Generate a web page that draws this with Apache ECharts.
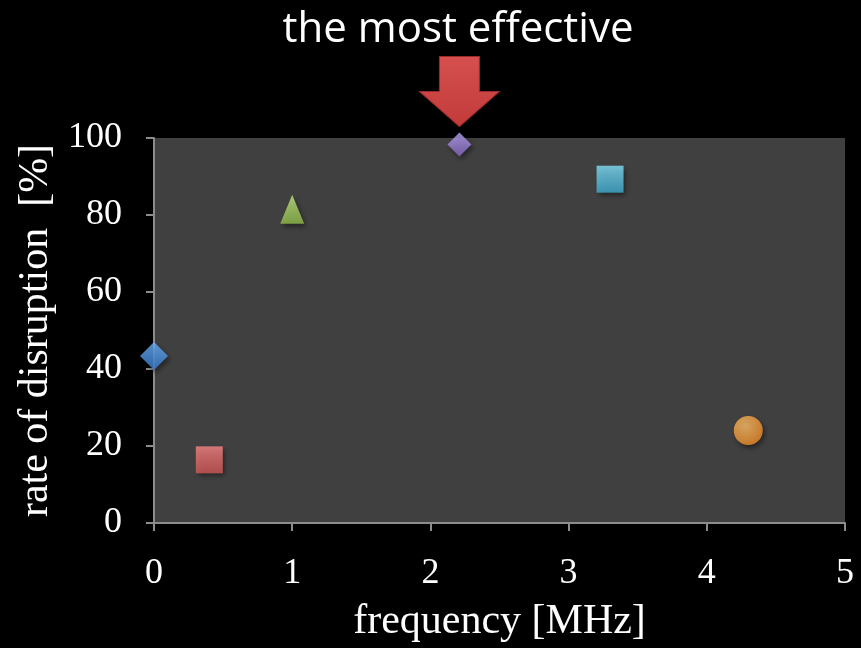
<!DOCTYPE html>
<html>
<head>
<meta charset="utf-8">
<script src="https://cdn.jsdelivr.net/npm/echarts@6/dist/echarts.min.js"></script>
<style>
  html, body { margin: 0; padding: 0; background: #000; }
  #chart { width: 861px; height: 648px; }
</style>
</head>
<body>
<div id="chart"></div>
<script>
// Measured points: frequency (MHz) and rate of disruption (%)
const labels = ['A', 'B', 'C', 'D', 'E', 'F'];
const frequencies = [0, 0.40, 1.0, 2.21, 3.30, 4.30];
const rates = [43.4, 16.4, 81.5, 98.3, 89.3, 24.0];
const xTicks = [0, 1, 2, 3, 4, 5];
const yTicks = [0, 20, 40, 60, 80, 100];
const highlightIndex = 3; // the point marked as most effective

const markerStyles = [
  { symbol: 'diamond', size: [28, 28], top: '#6cb2f8', bottom: '#3a7ed4' },
  { symbol: 'rect', size: [27, 27], top: '#f88686', bottom: '#d25656' },
  { symbol: 'triangle', size: [24, 29], top: '#c4e884', bottom: '#90bc4c' },
  { symbol: 'diamond', size: [24, 24], top: '#baa4f2', bottom: '#8468c4' },
  { symbol: 'rect', size: [27, 27], top: '#84e0f8', bottom: '#40acd0' },
  { symbol: 'circle', size: [29, 29], top: '#ffc470', bottom: '#ee8a24' }
];

function fill(m) {
  if (m.symbol === 'circle') {
    return new echarts.graphic.RadialGradient(0.4, 0.35, 0.7, [
      { offset: 0, color: m.top },
      { offset: 1, color: m.bottom }
    ]);
  }
  return new echarts.graphic.LinearGradient(0, 0, 0, 1, [
    { offset: 0, color: m.top },
    { offset: 1, color: m.bottom }
  ]);
}

const series = labels.map((name, i) => {
  const m = markerStyles[i];
  const s = {
    name: name,
    type: 'scatter',
    symbol: m.symbol,
    symbolSize: m.size,
    data: [[frequencies[i], rates[i]]],
    itemStyle: {
      color: fill(m),
      shadowBlur: 5,
      shadowColor: 'rgba(0,0,0,0.55)',
      shadowOffsetX: 2,
      shadowOffsetY: 3
    },
    z: 3
  };
  if (i === highlightIndex) {
    s.markPoint = {
      silent: true,
      symbol: 'path://M20,0 L60,0 L60,35 L80,35 L40,70 L0,35 L20,35 Z',
      symbolSize: [80, 70],
      symbolKeepAspect: false,
      symbolOffset: [0, -53],
      label: { show: false },
      itemStyle: {
        color: new echarts.graphic.LinearGradient(0, 0, 0, 1, [
          { offset: 0, color: '#d65050' },
          { offset: 1, color: '#c23a3a' }
        ]),
        borderColor: '#9c2a2a',
        borderWidth: 1
      },
      data: [{ coord: [frequencies[i], rates[i]] }]
    };
  }
  return s;
});

const chart = echarts.init(document.getElementById('chart'));
chart.setOption({
  backgroundColor: '#000000',
  animation: false,
  title: {
    text: 'the most effective',
    left: 453,
    top: 4,
    textAlign: 'center',
    textStyle: {
      color: '#ffffff',
      fontFamily: 'Open Sans',
      fontWeight: 'normal',
      fontSize: 42
    }
  },
  grid: {
    left: 154,
    right: 16,
    top: 138,
    bottom: 123,
    show: true,
    backgroundColor: '#404040',
    borderWidth: 0
  },
  xAxis: {
    type: 'value',
    min: xTicks[0],
    max: xTicks[xTicks.length - 1],
    interval: 1,
    name: 'frequency [MHz]',
    nameLocation: 'middle',
    nameGap: 78,
    nameTextStyle: { color: '#ffffff', fontFamily: 'Liberation Serif', fontSize: 42 },
    axisLine: { show: true, lineStyle: { color: '#8c8c8c', width: 2 } },
    axisTick: { show: true, length: 8, lineStyle: { color: '#8c8c8c', width: 2 } },
    axisLabel: { color: '#ffffff', fontFamily: 'Liberation Serif', fontSize: 36, margin: 33 },
    splitLine: { show: false }
  },
  yAxis: {
    type: 'value',
    min: yTicks[0],
    max: yTicks[yTicks.length - 1],
    interval: 20,
    name: 'rate of disruption  [%]',
    nameLocation: 'middle',
    nameGap: 90,
    nameTextStyle: { color: '#ffffff', fontFamily: 'Liberation Serif', fontSize: 42 },
    axisLine: { show: true, lineStyle: { color: '#8c8c8c', width: 2 } },
    axisTick: { show: true, length: 8, lineStyle: { color: '#8c8c8c', width: 2 } },
    axisLabel: { color: '#ffffff', fontFamily: 'Liberation Serif', fontSize: 36, margin: 32 },
    splitLine: { show: false }
  },
  series: series
});
</script>
</body>
</html>
